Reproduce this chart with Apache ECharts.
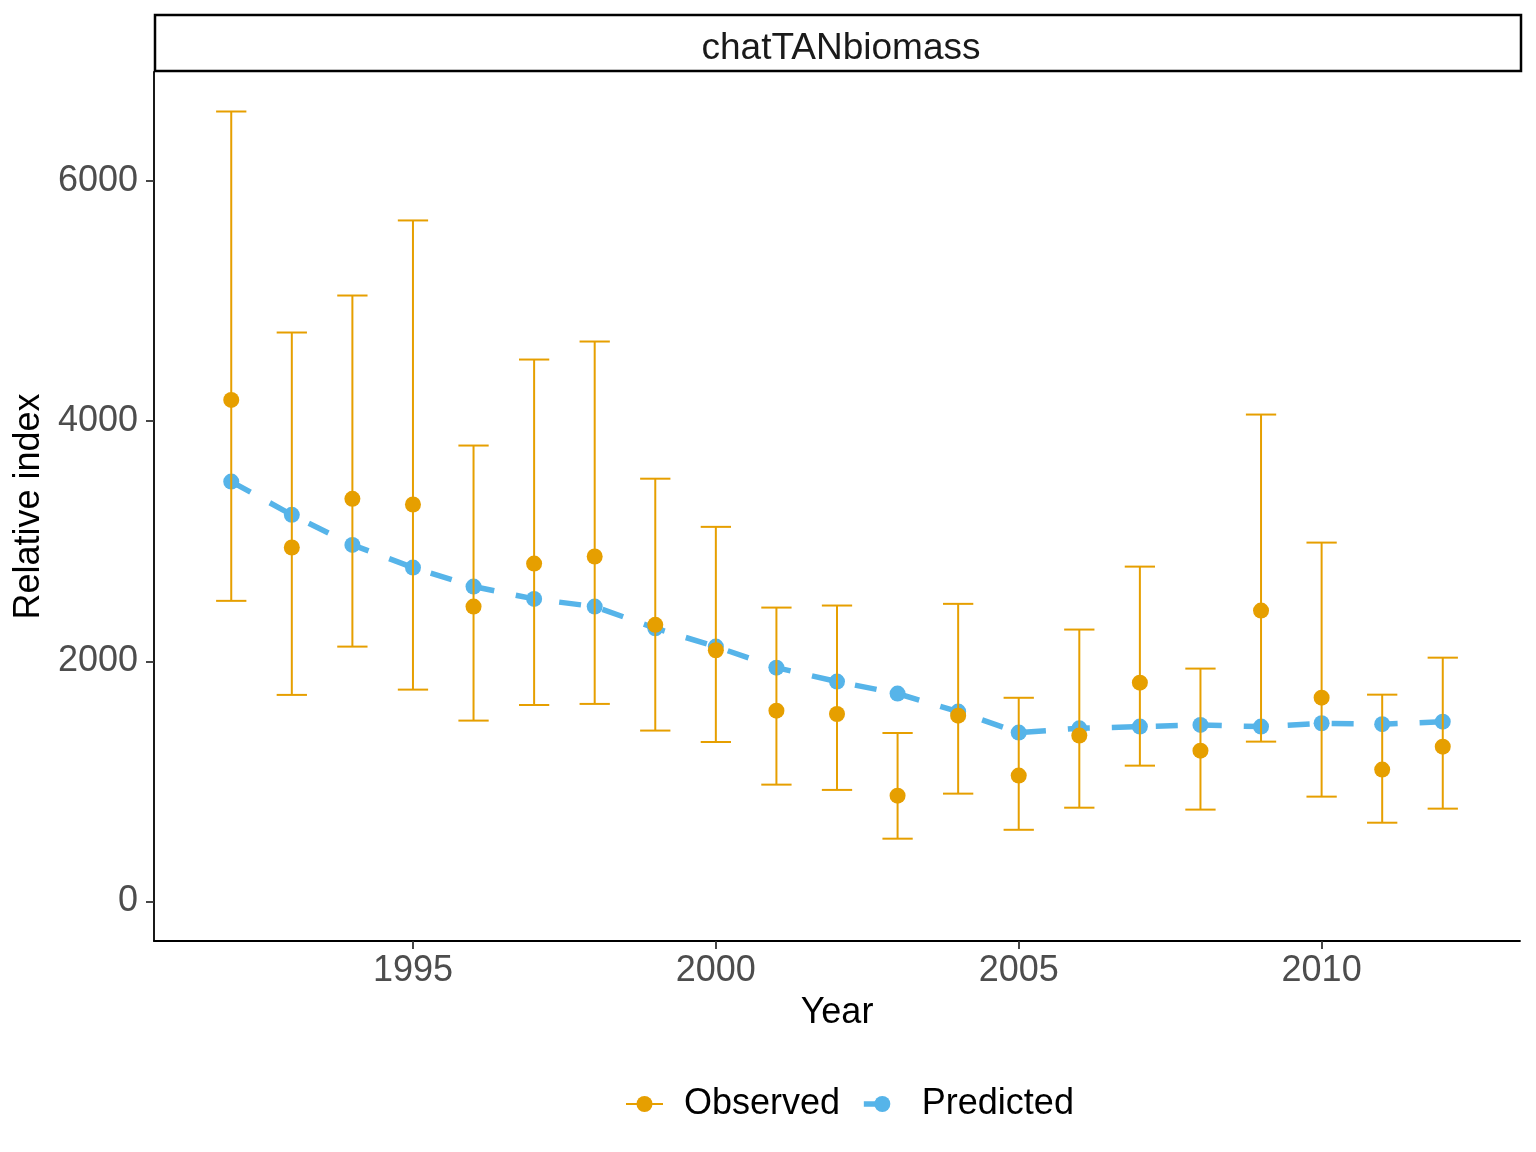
<!DOCTYPE html>
<html>
<head>
<meta charset="utf-8">
<script src="https://cdn.jsdelivr.net/npm/echarts@6/dist/echarts.min.js"></script>
<style>
  html, body { margin: 0; padding: 0; background: #fff; }
  #chart { width: 1536px; height: 1152px; }
</style>
</head>
<body>
<div id="chart"></div>
<script>
// values
const years = [1992, 1993, 1994, 1995, 1996, 1997, 1998, 1999, 2000, 2001, 2002,
               2003, 2004, 2005, 2006, 2007, 2008, 2009, 2010, 2011, 2012];
const observed = [4176, 2947, 3352, 3305, 2455, 2813, 2872, 2303, 2092, 1589, 1561,
                  881, 1547, 1048, 1381, 1822, 1256, 2422, 1697, 1098, 1289];
const predicted = [3496, 3219, 2969, 2780, 2622, 2519, 2455, 2275, 2122, 1947, 1831,
                   1731, 1581, 1406, 1442, 1456, 1470, 1456, 1484, 1476, 1497];
const lower = [2503, 1720, 2122, 1764, 1506, 1636, 1645, 1423, 1328, 973, 929,
               523, 898, 597, 781, 1131, 765, 1331, 873, 656, 773];
const upper = [6577, 4737, 5045, 5670, 3796, 4512, 4662, 3520, 3119, 2447, 2464,
               1403, 2478, 1696, 2264, 2788, 1939, 4054, 2988, 1722, 2030];
const xTicks = [1995, 2000, 2005, 2010];
const yTicks = [0, 2000, 4000, 6000];

const ORANGE = '#E69F00';
const BLUE = '#56B4E9';
const FONT = 'Liberation Sans';
const capHalf = 0.25;

// ggplot style limits: 5% padding, y expanded to include 0
const xLo = years[0] - capHalf, xHi = years[years.length - 1] + capHalf;
const xPad = (xHi - xLo) * 0.05;
const yTop = Math.max(...upper);
const yPad = yTop * 0.05;

const chart = echarts.init(document.getElementById('chart'));

const option = {
    backgroundColor: '#fff',
    animation: false,
    title: {
        text: 'chatTANbiomass',
        left: 836,
        top: 25,
        textAlign: 'center',
        textStyle: { fontFamily: FONT, fontSize: 37, fontWeight: 'normal', color: '#1A1A1A', lineHeight: 37 }
    },
    graphic: [{
        type: 'rect',
        shape: { x: 155, y: 15, width: 1366, height: 56 },
        style: { fill: '#fff', stroke: '#000', lineWidth: 2.5 },
        z: -1
    }],
    grid: { left: 154, right: 16, top: 72, bottom: 211, containLabel: false, outerBoundsMode: 'none' },
    legend: {
        left: 620,
        top: 1081,
        itemWidth: 37,
        itemHeight: 20,
        itemGap: 21,
        textStyle: { fontFamily: FONT, fontSize: 36, color: '#000', lineHeight: 36, padding: [0, 0, 0, 16] },
        data: [
            { name: 'Observed', lineStyle: { width: 2, color: ORANGE, opacity: 1, type: 'solid' } },
            { name: 'Predicted', lineStyle: { width: 5.5, color: BLUE, opacity: 1, type: [20, 20] } }
        ]
    },
    xAxis: {
        type: 'value',
        min: xLo - xPad,
        max: xHi + xPad,
        name: 'Year',
        nameLocation: 'middle',
        nameGap: 54,
        nameTextStyle: { fontFamily: FONT, fontSize: 36, color: '#000' },
        splitLine: { show: false },
        axisLine: { onZero: false, lineStyle: { color: '#000', width: 1.8 } },
        axisTick: { customValues: xTicks, length: 8, lineStyle: { color: '#333', width: 1.8 } },
        axisLabel: {
            customValues: xTicks, margin: 12, fontFamily: FONT, fontSize: 36, color: '#4D4D4D',
            formatter: v => String(v)
        }
    },
    yAxis: {
        type: 'value',
        min: -yPad,
        max: yTop + yPad,
        name: 'Relative index',
        nameLocation: 'middle',
        nameRotate: 90,
        nameGap: 107,
        nameTextStyle: { fontFamily: FONT, fontSize: 36, color: '#000' },
        splitLine: { show: false },
        axisLine: { show: true, onZero: false, lineStyle: { color: '#000', width: 1.8 } },
        axisTick: { show: true, customValues: yTicks, length: 8, lineStyle: { color: '#333', width: 1.8 } },
        axisLabel: {
            customValues: yTicks, margin: 16, fontFamily: FONT, fontSize: 36, color: '#4D4D4D',
            formatter: v => String(v)
        }
    },
    series: [
        {
            name: 'Predicted',
            type: 'line',
            z: 2,
            data: years.map((y, i) => [y, predicted[i]]),
            symbol: 'circle',
            symbolSize: 16,
            itemStyle: { color: BLUE },
            lineStyle: { color: BLUE, width: 5.5, type: [22, 22] }
        },
        {
            name: 'errorbars',
            type: 'custom',
            z: 3,
            data: years.map((y, i) => [y, lower[i], upper[i]]),
            renderItem: function (params, api) {
                const x = api.value(0);
                const pLo = api.coord([x, api.value(1)]);
                const pHi = api.coord([x, api.value(2)]);
                const half = api.size([capHalf, 0])[0];
                const style = { stroke: ORANGE, lineWidth: 2, fill: null };
                return {
                    type: 'group',
                    children: [
                        { type: 'line', shape: { x1: pLo[0], y1: pLo[1], x2: pHi[0], y2: pHi[1] }, style: style },
                        { type: 'line', shape: { x1: pLo[0] - half, y1: pLo[1], x2: pLo[0] + half, y2: pLo[1] }, style: style },
                        { type: 'line', shape: { x1: pHi[0] - half, y1: pHi[1], x2: pHi[0] + half, y2: pHi[1] }, style: style }
                    ]
                };
            }
        },
        {
            name: 'Observed',
            type: 'line',
            z: 4,
            data: years.map((y, i) => [y, observed[i]]),
            symbol: 'circle',
            symbolSize: 16,
            itemStyle: { color: ORANGE },
            lineStyle: { color: ORANGE, width: 0 }
        }
    ]
};

chart.setOption(option);
</script>
</body>
</html>
